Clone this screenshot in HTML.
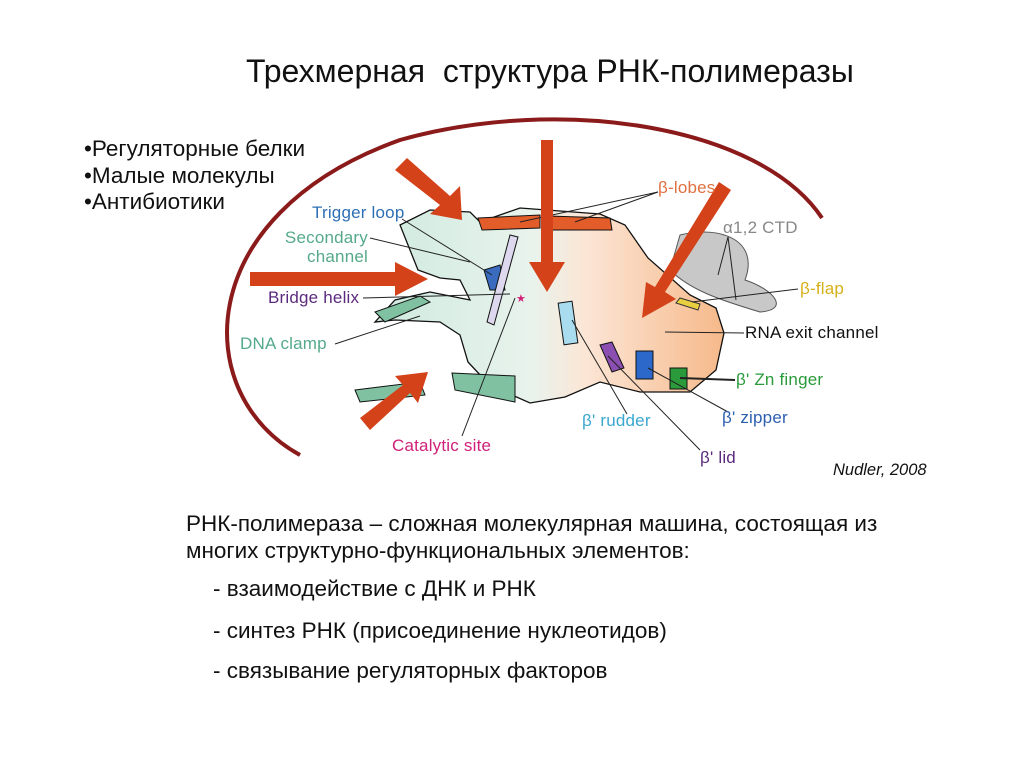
<!DOCTYPE html>
<html><head><meta charset="utf-8"><style>
html,body{margin:0;padding:0;background:#fff;}
body{width:1024px;height:767px;position:relative;overflow:hidden;font-family:"Liberation Sans",sans-serif;}
.t{position:absolute;white-space:nowrap;color:#111;}
</style></head><body>
<div class="t" style="left:246px;top:53px;font-size:32px;">Трехмерная&nbsp; структура РНК-полимеразы</div>
<div class="t" style="left:84px;top:136px;font-size:22.5px;line-height:26.5px;">•Регуляторные белки<br>•Малые молекулы<br>•Антибиотики</div>
<svg width="1024" height="767" style="position:absolute;left:0;top:0" font-family="Liberation Sans, sans-serif">
<defs>
<linearGradient id="g" x1="0" y1="0" x2="1" y2="0">
<stop offset="0" stop-color="#cfeadf"/><stop offset="0.45" stop-color="#e8f3ec"/><stop offset="0.6" stop-color="#fbe6d6"/><stop offset="1" stop-color="#f6b98a"/>
</linearGradient>
</defs>
<path d="M300,455 C190,395 190,215 400,140 C560,95 760,125 822,218" fill="none" stroke="#8b1a1a" stroke-width="4"/>
<path d="M680,235 C720,225 760,240 745,280 C775,290 790,310 760,312 C720,300 690,290 670,270 Z" fill="#c8c8c8" stroke="#555" stroke-width="1"/>
<path d="M400,225 L430,210 L470,212 L480,222 L520,208 L600,214 L625,225 L648,258 L690,295 L716,308 L724,333 L716,370 L690,392 L640,392 L600,382 L565,397 L530,403 L512,395 L505,382 L482,377 L468,362 L460,335 L440,322 L395,320 L375,322 L395,300 L430,292 L470,300 L460,280 L440,278 L418,270 Z" fill="url(#g)" stroke="#111" stroke-width="1.3"/>
<path d="M355,390 L420,382 L425,395 L360,402 Z" fill="#7fc1a1" stroke="#111"/>
<path d="M452,373 L515,376 L515,402 L455,390 Z" fill="#7fc1a1" stroke="#111"/>
<path d="M375,312 L420,296 L430,302 L385,322 Z" fill="#7fc1a1" stroke="#111"/>
<path d="M478,218 L540,215 L540,228 L482,230 Z M548,216 L610,218 L612,230 L550,230 Z" fill="#e35d2a" stroke="#111"/>
<path d="M484,270 L500,265 L505,290 L490,290 Z" fill="#3a6bbf" stroke="#111"/>
<path d="M487,322 L510,235 L518,237 L494,325 Z" fill="#ddd8ee" stroke="#111"/>
<rect x="561" y="302" width="14" height="42" fill="#a9dcef" stroke="#111" transform="rotate(-8 568 323)"/>
<path d="M600,345 L612,342 L624,368 L612,372 Z" fill="#8a4fb0" stroke="#111"/>
<rect x="636" y="351" width="17" height="28" fill="#2c68c9" stroke="#111"/>
<rect x="670" y="368" width="17" height="21" fill="#2a9a3a" stroke="#111"/>
<path d="M680,298 L700,304 L698,310 L676,303 Z" fill="#e8d040" stroke="#333"/>
<g stroke="#222" stroke-width="1" fill="none">
<path d="M402,219 L492,275"/><path d="M370,238 L470,262"/><path d="M363,298 L510,294"/><path d="M335,344 L420,316"/>
<path d="M462,436 L515,298"/><path d="M627,414 L572,320"/><path d="M700,450 L608,356"/><path d="M728,412 L648,368"/>
<path d="M735,380 L680,378" stroke-width="2"/><path d="M744,333 L665,332"/><path d="M798,289 L692,302"/>
<path d="M728,237 L718,275 M728,237 L736,300"/><path d="M658,192 L575,222 M658,192 L520,222"/>
</g>
<text x="516" y="302" fill="#d0207a" font-size="11">★</text>
<g fill="#d4421a">
<path d="M395,170 L407,158 L450,196 L460,186 L462,220 L430,214 L440,205 Z"/>
<path d="M541,140 L553,140 L553,262 L565,262 L547,292 L529,262 L541,262 Z"/>
<path d="M719,182 L731,190 L665,292 L676,299 L642,318 L646,282 L655,287 Z"/>
<path d="M250,272 L395,272 L395,262 L428,279 L395,296 L395,286 L250,286 Z"/>
<path d="M360,418 L370,430 L410,393 L418,403 L428,372 L395,376 L403,385 Z"/>
</g>
<g font-size="17" letter-spacing="0.2">
<text x="312" y="218" fill="#2d6fb5">Trigger loop</text>
<text x="368" y="243" fill="#55a98a" text-anchor="end">Secondary</text>
<text x="368" y="262" fill="#55a98a" text-anchor="end">channel</text>
<text x="268" y="303" fill="#5b2a7e">Bridge helix</text>
<text x="240" y="349" fill="#55a98a">DNA clamp</text>
<text x="392" y="451" fill="#d0207a">Catalytic site</text>
<text x="582" y="426" fill="#3aa7d0">β' rudder</text>
<text x="700" y="463" fill="#5b2a7e">β' lid</text>
<text x="722" y="423" fill="#2d5fb0">β' zipper</text>
<text x="736" y="385" fill="#2a9a3a">β' Zn finger</text>
<text x="745" y="338" fill="#111">RNA exit channel</text>
<text x="800" y="294" fill="#d4b01a">β-flap</text>
<text x="723" y="233" fill="#888">α1,2 CTD</text>
<text x="658" y="193" fill="#e07040">β-lobes</text>
</g>
<text x="833" y="475" font-size="16.5" font-style="italic" fill="#111">Nudler, 2008</text>
</svg>
<div class="t" style="left:186px;top:510px;font-size:22.5px;line-height:27px;">РНК-полимераза – сложная молекулярная машина, состоящая из<br>многих структурно-функциональных элементов:</div>
<div class="t" style="left:213px;top:576px;font-size:22.5px;">- взаимодействие с ДНК и РНК</div>
<div class="t" style="left:213px;top:618px;font-size:22.5px;">- синтез РНК (присоединение нуклеотидов)</div>
<div class="t" style="left:213px;top:658px;font-size:22.5px;">- связывание регуляторных факторов</div>
</body></html>
